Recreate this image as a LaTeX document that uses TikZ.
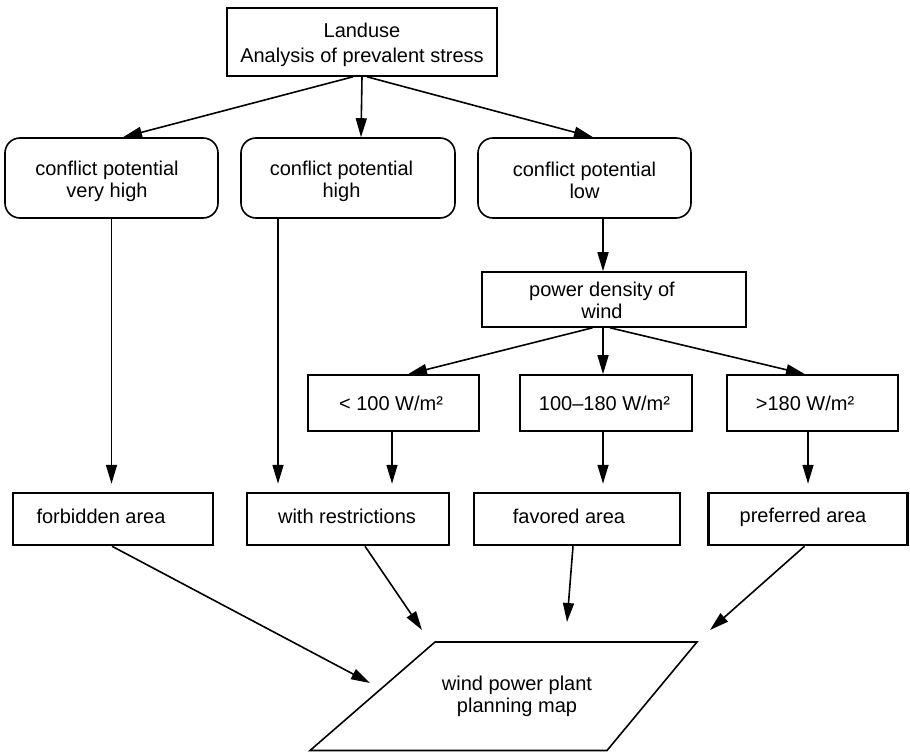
\documentclass[tikz,border=0pt]{standalone}
\usepackage{fontspec}
\setmainfont{Liberation Sans}
\usetikzlibrary{arrows.meta,calc}
\begin{document}
\begin{tikzpicture}[x=1pt,y=-1pt,
  txt/.style={font=\fontsize{20}{22}\selectfont, align=center, inner sep=0pt},
  sqbox/.style={draw, line width=1.6pt, inner sep=0pt},
  rbox/.style={draw, line width=1.6pt, rounded corners=15pt, inner sep=0pt, minimum height=80pt},
  endbox/.style={draw, line width=2.5pt, inner sep=0pt, minimum height=52pt},
  arr/.style={line width=1.6pt, -{Triangle[length=19pt,width=11pt]}},
  gap/.style={shorten >=8pt}]
\useasboundingbox (0,0) rectangle (910,752);

% top box
\node[sqbox, minimum width=270pt, minimum height=68pt] (top) at (362,42) {};
\node[txt, font=\fontsize{20}{24.7}\selectfont] (ttop) at (362,45) {Landuse\\Analysis of prevalent stress};

% conflict boxes
\node[rbox, minimum width=213pt] (b1) at (111.5,178) {};
\node[rbox, minimum width=214pt] (b2) at (348,178) {};
\node[rbox, minimum width=213pt] (b3) at (584.5,178) {};
\node[txt] (tb1) at (107,181) {conflict potential\\very high};
\node[txt] (tb2) at (341.5,181) {conflict potential\\high};
\node[txt] (tb3) at (584.5,180) {conflict potential\\low};

% power density
\node[sqbox, minimum width=264pt, minimum height=55pt] (pd) at (614,299.5) {};
\node[txt] (tpd) at (602,300.3) {power density of\\wind};

% ranges
\node[sqbox, minimum width=171pt, minimum height=56pt] (r1) at (393.5,403) {};
\node[sqbox, minimum width=172pt, minimum height=56pt] (r2) at (606,403) {};
\node[sqbox, minimum width=171pt, minimum height=56pt] (r3) at (812.5,403) {};
\node[txt] (tr1) at (391,403) {< 100 W/m²};
\node[txt] (tr2) at (604.5,403) {100–180 W/m²};
\node[txt] (tr3) at (805,403) {>180 W/m²};

% result boxes
\node[endbox, minimum width=200pt] (f1) at (113,519) {};
\node[endbox, minimum width=202pt] (f2) at (348,519) {};
\node[endbox, minimum width=206pt] (f3) at (577,519) {};
\node[endbox, minimum width=199pt] (f4) at (808,519) {};
\node[txt] (tf1) at (101,516) {forbidden area};
\node[txt] (tf2) at (347,516) {with restrictions};
\node[txt] (tf3) at (569,516) {favored area};
\node[txt] (tf4) at (803,517.8) {preferred area};

% planning map parallelogram
\coordinate (pTL) at (435,642);
\coordinate (pTR) at (697,642);
\coordinate (pBR) at (607,750.5);
\coordinate (pBL) at (310,750.5);
\draw[line width=1.6pt, line join=miter] (pTL) -- (pTR) -- (pBR) -- (pBL) -- cycle;
\node[txt] (tmap) at (517,696.6) {wind power plant\\planning map};

% connectors top -> conflict
\draw[arr] ([xshift=-9pt]top.south) -- ([xshift=11.5pt]b1.north);
\draw[arr] (top.south) -- ([xshift=13pt]b2.north);
\draw[arr] ([xshift=5pt]top.south) -- ([xshift=8.5pt]b3.north);

% conflict -> results / power density
\coordinate (b2o) at ([xshift=-70pt]b2.south);
\coordinate (b3o) at ([xshift=18.5pt]b3.south);
\draw[arr, gap] (b1.south) -- (b1.south |- f1.north);
\draw[arr, gap] (b2o) -- (b2o |- f2.north);
\draw[arr] (b3o) -- (b3o |- pd.north);

% power density -> ranges
\draw[arr] ([xshift=-21.5pt]pd.south) -- ([xshift=14.5pt]r1.north);
\draw[arr] ([xshift=-11pt]pd.south) -- ([xshift=-3pt]r2.north);
\draw[arr] ([xshift=-4pt]pd.south) -- ([xshift=-7.5pt]r3.north);

% ranges -> results
\coordinate (r1o) at ([xshift=-1.5pt]r1.south);
\coordinate (r2o) at ([xshift=-3pt]r2.south);
\coordinate (r3o) at ([xshift=-4.5pt]r3.south);
\draw[arr, gap] (r1o) -- (r1o |- f2.north);
\draw[arr, gap] (r2o) -- (r2o |- f3.north);
\draw[arr, gap] (r3o) -- (r3o |- f4.north);

% results -> map
\coordinate (m1) at (370,683);
\coordinate (m2) at (422,630);
\coordinate (m3) at (567,622);
\coordinate (m4) at (710,630);
\draw[arr] ([xshift=-1pt]f1.south) -- (m1);
\draw[arr] ([xshift=17pt]f2.south) -- (m2);
\draw[arr] ([xshift=-4pt]f3.south) -- (m3);
\draw[arr] ([xshift=-3.5pt]f4.south) -- (m4);
\end{tikzpicture}
\end{document}
